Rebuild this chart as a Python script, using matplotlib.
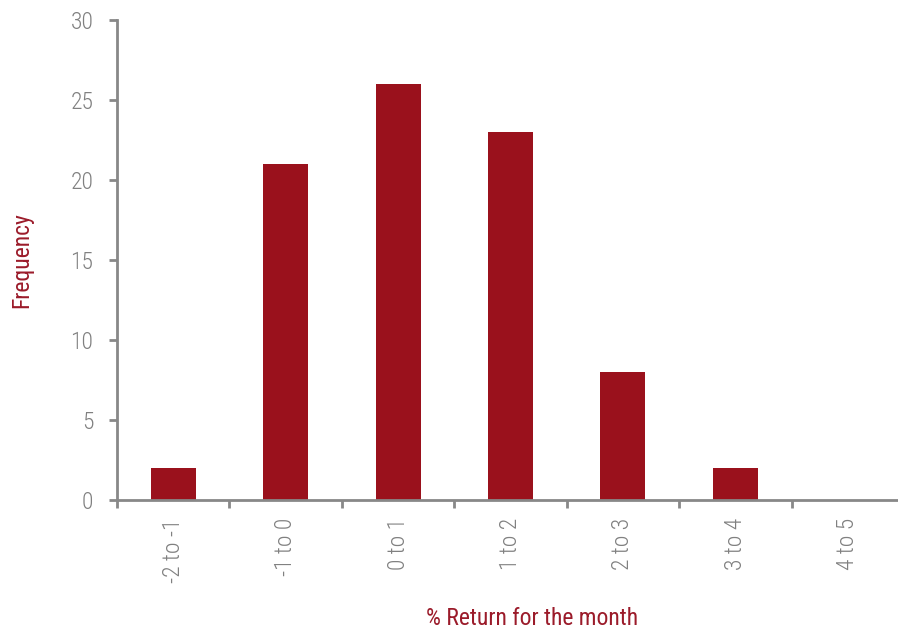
import matplotlib
matplotlib.use("Agg")
import matplotlib.pyplot as plt
import numpy as np
from matplotlib import font_manager

# Histogram of monthly returns
categories = ['-2 to -1', '-1 to 0', '0 to 1', '1 to 2', '2 to 3', '3 to 4', '4 to 5']
frequency = [2, 21, 26, 23, 8, 2, 0]

# pick a condensed font if one is available
names = {f.name for f in font_manager.fontManager.ttflist}
fam = [n for n in ['Roboto Condensed', 'Liberation Sans Narrow', 'Roboto', 'DejaVu Sans'] if n in names]
plt.rcParams['font.family'] = fam
plt.rcParams['font.weight'] = 'light'

bar_color = '#9A111C'
label_color = '#9B1B2A'
grey = '#808080'

fig = plt.figure(figsize=(8.98, 6.31), dpi=100)
ax = fig.add_axes([117 / 898, 131 / 631, 787 / 898, 480 / 631])

x = np.arange(len(categories))
ax.bar(x, frequency, width=0.4, color=bar_color)

ax.set_xlim(-0.5, len(categories) - 0.5)
ax.set_ylim(0, 30)
ax.set_yticks(range(0, 31, 5))

# labels at centres, tick marks at category boundaries
ax.set_xticks(x)
ax.set_xticklabels(categories, rotation=90, fontsize=17, color=grey)
ax.set_xticks(np.arange(-0.5, len(categories), 1), minor=True)
ax.tick_params(axis='x', which='major', length=0, pad=13)
ax.tick_params(axis='x', which='minor', length=6, width=2, color='#888888')
ax.tick_params(axis='y', length=6, width=2, color='#888888', pad=11,
               labelsize=17, labelcolor=grey)

for s in ['top', 'right']:
    ax.spines[s].set_visible(False)
for s in ['left', 'bottom']:
    ax.spines[s].set_color('#888888')
    ax.spines[s].set_linewidth(2)
ax.spines['left'].set_zorder(0)

ax.set_ylabel('Frequency', fontsize=17, color=label_color)
ax.yaxis.set_label_coords(-0.107, 0.5)
ax.set_xlabel('% Return for the month', fontsize=17, color=label_color)
ax.xaxis.set_label_coords(0.527, -0.223)

fig.savefig('out.png', dpi=100)
